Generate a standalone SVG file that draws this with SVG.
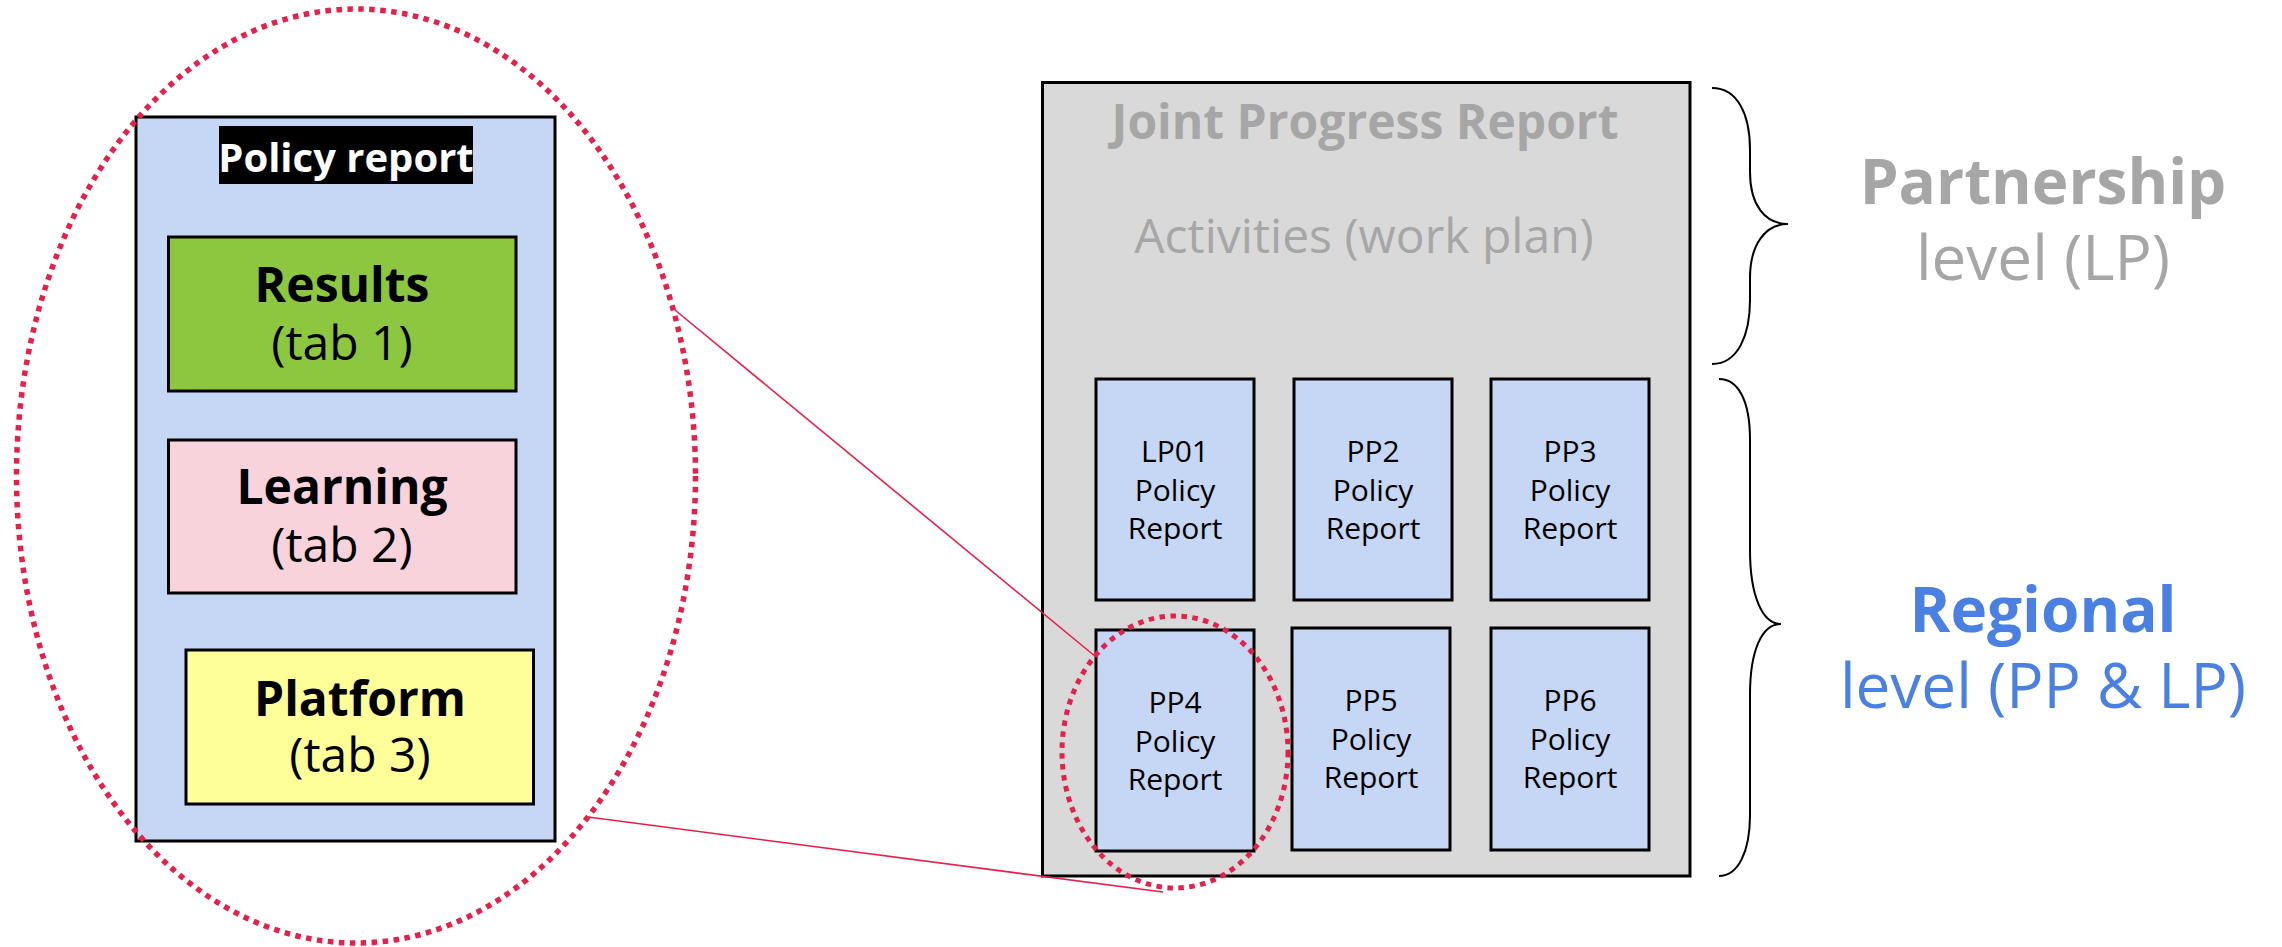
<svg xmlns="http://www.w3.org/2000/svg" width="2282" height="947" viewBox="0 0 2282 947">
<style>
text{font-family:"Open Sans","Noto Sans","DejaVu Sans",sans-serif;text-anchor:middle}
.b{font-weight:bold}
.box{stroke:#000;stroke-width:3}
.pr{fill:#c5d7f4;stroke:#000;stroke-width:3}
.t30{font-size:30px;fill:#000}
.t48{font-size:48px;fill:#000}
.grey{fill:#a6a6a6}
.blue{fill:#4a80e2}
.dot{fill:none;stroke:#e3214b;stroke-dasharray:5.5 5.5}
.brace{fill:none;stroke:#000;stroke-width:2}
.link{stroke:#e3214b;stroke-width:1.6;fill:none}
</style>
<rect width="2282" height="947" fill="#fff"/>
<g id="policy-report-detail">
<rect class="pr" x="136" y="117" width="419" height="724"/>
<rect x="219" y="126" width="254" height="58" fill="#000"/>
<text class="b" x="346" y="172" font-size="40" fill="#fff">Policy report</text>
</g>
<g id="results">
<rect class="box" x="168.5" y="237" width="347.5" height="154" fill="#8dc63f"/>
<text class="t48 b" x="342" y="302">Results</text>
<text class="t48" x="342" y="360">(tab 1)</text>
</g>
<g id="learning">
<rect class="box" x="168.5" y="440" width="347.5" height="153" fill="#f9d3db"/>
<text class="t48 b" x="342" y="504">Learning</text>
<text class="t48" x="342" y="562">(tab 2)</text>
</g>
<g id="platform">
<rect class="box" x="186" y="650" width="347.5" height="154" fill="#ffff99"/>
<text class="t48 b" x="360" y="716">Platform</text>
<text class="t48" x="360" y="772">(tab 3)</text>
</g>
<g id="joint-progress-report">
<rect class="box" x="1042.5" y="82.5" width="647.5" height="793.5" fill="#d9d9d9"/>
<text class="b grey" x="1365" y="139" font-size="48">Joint Progress Report</text>
<text class="grey" x="1364" y="253" font-size="48">Activities (work plan)</text>
</g>
<g id="lp01">
<rect class="pr" x="1096" y="379" width="158" height="221"/>
<text class="t30" x="1175" y="462">LP01<tspan x="1175" y="500.5">Policy</tspan><tspan x="1175" y="539">Report</tspan></text>
</g>
<g id="pp2">
<rect class="pr" x="1294" y="379" width="158" height="221"/>
<text class="t30" x="1373" y="462">PP2<tspan x="1373" y="500.5">Policy</tspan><tspan x="1373" y="539">Report</tspan></text>
</g>
<g id="pp3">
<rect class="pr" x="1491" y="379" width="158" height="221"/>
<text class="t30" x="1570" y="462">PP3<tspan x="1570" y="500.5">Policy</tspan><tspan x="1570" y="539">Report</tspan></text>
</g>
<g id="pp4">
<rect class="pr" x="1096" y="630" width="158" height="221"/>
<text class="t30" x="1175" y="713">PP4<tspan x="1175" y="751.5">Policy</tspan><tspan x="1175" y="790">Report</tspan></text>
</g>
<g id="pp5">
<rect class="pr" x="1292" y="628" width="158" height="222"/>
<text class="t30" x="1371" y="711">PP5<tspan x="1371" y="749.5">Policy</tspan><tspan x="1371" y="788">Report</tspan></text>
</g>
<g id="pp6">
<rect class="pr" x="1491" y="628" width="158" height="222"/>
<text class="t30" x="1570" y="711">PP6<tspan x="1570" y="749.5">Policy</tspan><tspan x="1570" y="788">Report</tspan></text>
</g>
<g id="connectors">
<line class="link" x1="675" y1="310" x2="1096" y2="657"/>
<line class="link" x1="588" y1="817" x2="1163" y2="892"/>
</g>
<g id="zoom-ellipse">
<ellipse class="dot" cx="356" cy="476" rx="339.5" ry="467" stroke-width="5.5"/>
</g>
<g id="pp4-ellipse">
<ellipse class="dot" cx="1175" cy="752" rx="113" ry="136" stroke-width="5"/>
</g>
<g id="partnership-brace">
<path class="brace" d="M1712,88 C1738,88 1750,115 1750,150 L1750,172 C1750,205 1765,224 1788,224 C1765,224 1750,245 1750,278 L1750,300 C1750,335 1738,364 1712,364"/>
<text class="b grey" x="2043" y="204" font-size="62">Partnership</text>
<text class="grey" x="2043" y="280" font-size="62">level (LP)</text>
</g>
<g id="regional-brace">
<path class="brace" d="M1719,379 C1738,379 1750,400 1750,440 L1750,550 C1750,595 1762,624 1781,624 C1762,624 1750,650 1750,695 L1750,815 C1750,852 1738,876 1719,876"/>
<text class="b blue" x="2043" y="632" font-size="62">Regional</text>
<text class="blue" x="2043" y="708" font-size="62">level (PP &amp; LP)</text>
</g>
</svg>
